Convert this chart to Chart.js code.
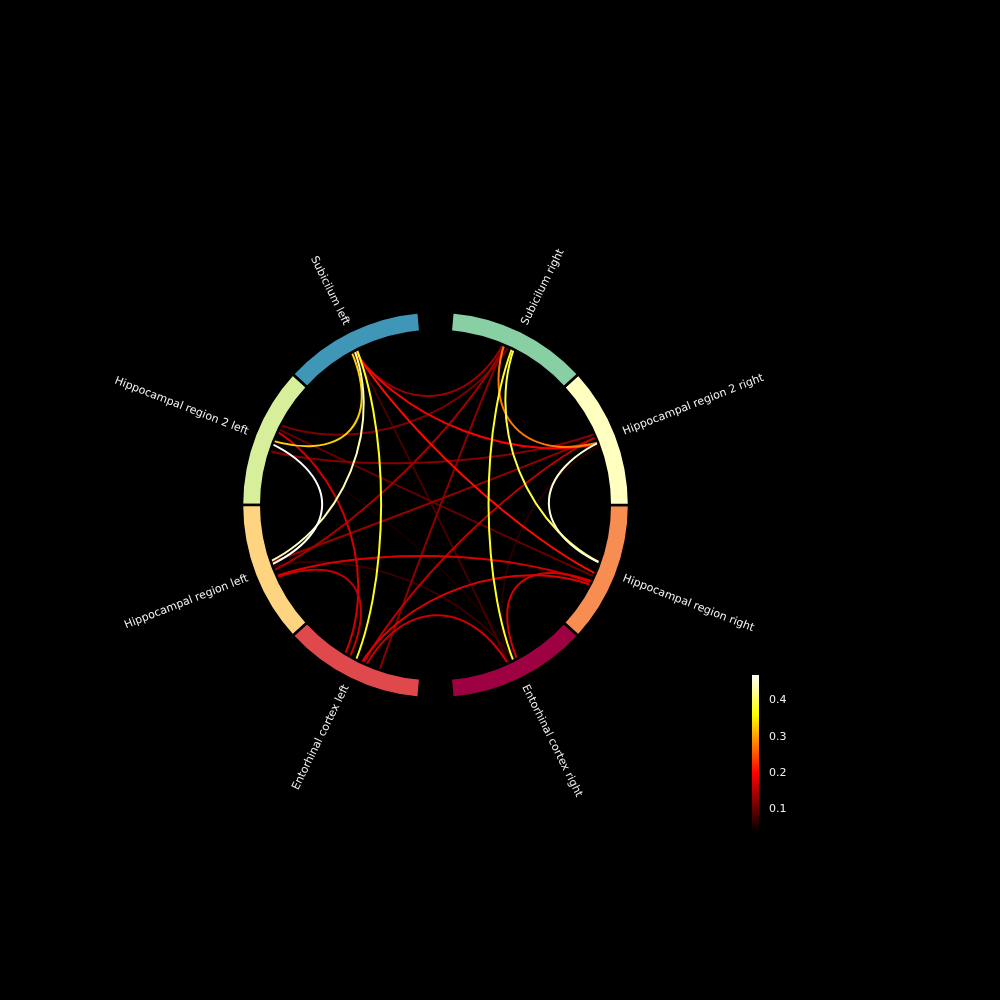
<!DOCTYPE html>
<html>
<head>
<meta charset="utf-8">
<script src="https://cdn.jsdelivr.net/npm/chart.js@4.4.0/dist/chart.umd.min.js"></script>
<style>
  html, body { margin: 0; padding: 0; background: #000; }
  #wrap { width: 1000px; height: 1000px; }
</style>
</head>
<body>
<div id="wrap"><canvas id="chart" width="1000" height="1000"></canvas></div>
<script>
// nodes in ring order (counter-clockwise from the top gap)
const nodeNames = [
  "Subicilum left",
  "Hippocampal region 2 left",
  "Hippocampal region left",
  "Entorhinal cortex left",
  "Entorhinal cortex right",
  "Hippocampal region right",
  "Hippocampal region 2 right",
  "Subicilum right"
];
const nodeColors = ["#3f96b7", "#d7ef9b", "#fed481", "#df494c", "#9e0142", "#f88d52", "#ffffbf", "#88cfa4"];

// connections (index into nodeNames) and strength
const conFrom   = [1, 6, 0, 7, 7, 0, 0, 7, 0, 0, 2, 3, 1, 5, 3, 2, 3, 2, 0, 2, 3, 1, 1, 1, 0, 2, 6, 1];
const conTo     = [2, 5, 2, 5, 4, 3, 1, 6, 5, 6, 5, 5, 3, 4, 4, 3, 6, 7, 7, 6, 7, 6, 7, 5, 4, 4, 4, 4];
const conValues = [0.469, 0.452, 0.437, 0.39, 0.375, 0.37, 0.33, 0.275, 0.205, 0.195, 0.175, 0.18, 0.17, 0.175,
                   0.165, 0.16, 0.155, 0.14, 0.135, 0.13, 0.125, 0.12, 0.115, 0.1, 0.08, 0.07, 0.06, 0.05];

const colorbarTicks = [0.1, 0.2, 0.3, 0.4];
const vmin = 0.042;
const vmax = 0.469;

// small angular offsets (deg) of line ends around each node centre
const startJitter = [0.5, 0, 1, 0, 0.5, 0.3, 2.2, 3.4, 1.5, 2, 2.5, 0.7, -4, -4.5, 2.5, 3, 1.5, 1, 2, -2, 7.5, 3.5, -5.6, -4.5, 1.5, -1, -1, 2];
const endJitter   = [-1, 1.6, -2, 1.5, 0, -0.6, 0, -0.6, -2.2, -1, -5, -5.6, -4.6, 1.4, -1.4, -2.9, 2, 2.5, 3, 1.5, 3, 2.5, 1, -3, -1.5, 1, -2, 2];

// layout of the ring, like mne circular_layout (start at 90 deg, 10 deg between halves)
const groupSep = 10;
const step = (360 - 2 * groupSep) / nodeNames.length;
const nodeAngles = nodeNames.map((n, k) => 90 + groupSep / 2 + step / 2 + k * step + (k >= nodeNames.length / 2 ? groupSep : 0));

function hot(x) {
  x = Math.max(0, Math.min(1, x));
  const a = 0.365079, b = 0.746032;
  const r = x < a ? 0.0416 + (x / a) * (1 - 0.0416) : 1;
  const g = x < a ? 0 : x < b ? (x - a) / (b - a) : 1;
  const bl = x < b ? 0 : (x - b) / (1 - b);
  return `rgb(${Math.round(r * 255)}, ${Math.round(g * 255)}, ${Math.round(bl * 255)})`;
}

const rad = (d) => d * Math.PI / 180;

const circlePlugin = {
  id: "circle",
  beforeDraw(chart) {
    const ctx = chart.ctx;
    ctx.save();
    ctx.fillStyle = "#000";
    ctx.fillRect(0, 0, chart.width, chart.height);
    ctx.restore();
  },
  afterDraw(chart) {
    const ctx = chart.ctx;
    const sx = chart.scales.x, sy = chart.scales.y;
    const px = (deg, r) => [sx.getPixelForValue(r * Math.cos(rad(deg))), sy.getPixelForValue(r * Math.sin(rad(deg)))];
    const cx = sx.getPixelForValue(0), cy = sy.getPixelForValue(0);
    const unit = sx.getPixelForValue(1) - cx;

    // connections, weakest first
    const order = conValues.map((v, i) => i).sort((a, b) => conValues[a] - conValues[b]);
    ctx.save();
    ctx.lineWidth = 2;
    ctx.lineCap = "butt";
    order.forEach((i) => {
      const t0 = nodeAngles[conFrom[i]] + startJitter[i];
      const t1 = nodeAngles[conTo[i]] + endJitter[i];
      const p0 = px(t0, 10), p1 = px(t0, 5), p2 = px(t1, 5), p3 = px(t1, 10);
      ctx.strokeStyle = hot((conValues[i] - vmin) / (vmax - vmin));
      ctx.beginPath();
      ctx.moveTo(p0[0], p0[1]);
      ctx.bezierCurveTo(p1[0], p1[1], p2[0], p2[1], p3[0], p3[1]);
      ctx.stroke();
    });
    ctx.restore();

    // ring of nodes
    ctx.save();
    nodeAngles.forEach((a, k) => {
      const a0 = rad(a - step / 2), a1 = rad(a + step / 2);
      ctx.beginPath();
      ctx.arc(cx, cy, 10 * unit, -a0, -a1, true);
      ctx.arc(cx, cy, 9 * unit, -a1, -a0, false);
      ctx.closePath();
      ctx.fillStyle = nodeColors[k];
      ctx.fill();
      ctx.lineWidth = 2.6;
      ctx.strokeStyle = "#000";
      ctx.stroke();
    });
    ctx.restore();

    // node labels
    ctx.save();
    ctx.font = '11px "DejaVu Sans"';
    ctx.fillStyle = "#f2f2f2";
    ctx.textBaseline = "middle";
    nodeNames.forEach((name, k) => {
      const a = nodeAngles[k];
      const p = px(a, 10.4);
      const right = Math.cos(rad(a)) > 0;
      ctx.save();
      ctx.translate(p[0], p[1]);
      ctx.rotate(-rad(right ? a : a + 180));
      ctx.textAlign = right ? "left" : "right";
      ctx.fillText(name, 0, 0);
      ctx.restore();
    });
    ctx.restore();

    // colorbar
    const cbLeft = 752, cbWidth = 7, cbTop = 675, cbBottom = 830;
    const yOf = (v) => cbBottom - (v - vmin) / (vmax - vmin) * (cbBottom - cbTop);
    ctx.save();
    const grad = ctx.createLinearGradient(0, cbBottom, 0, cbTop);
    [0, 0.365079, 0.746032, 1].forEach((s) => grad.addColorStop(s, hot(s)));
    ctx.fillStyle = grad;
    ctx.fillRect(cbLeft, cbTop, cbWidth, cbBottom - cbTop);
    ctx.font = '11px "DejaVu Sans"';
    ctx.fillStyle = "#f2f2f2";
    ctx.textAlign = "left";
    ctx.textBaseline = "middle";
    colorbarTicks.forEach((t) => ctx.fillText(t.toFixed(1), cbLeft + cbWidth + 10, yOf(t) + 0.5));
    ctx.restore();
  }
};

// one data unit = ring radius / 10 ; centre of the ring at (435.5, 505)
const pxPerUnit = 19.36;
const xMin = -435.5 / pxPerUnit, xMax = (1000 - 435.5) / pxPerUnit;
const yMax = 505 / pxPerUnit, yMin = -(1000 - 505) / pxPerUnit;

new Chart(document.getElementById("chart"), {
  type: "scatter",
  data: { datasets: [] },
  options: {
    responsive: false,
    animation: false,
    layout: { padding: 0 },
    plugins: { legend: { display: false }, tooltip: { enabled: false } },
    scales: {
      x: { type: "linear", min: xMin, max: xMax, display: false },
      y: { type: "linear", min: yMin, max: yMax, display: false }
    }
  },
  plugins: [circlePlugin]
});
</script>
</body>
</html>
